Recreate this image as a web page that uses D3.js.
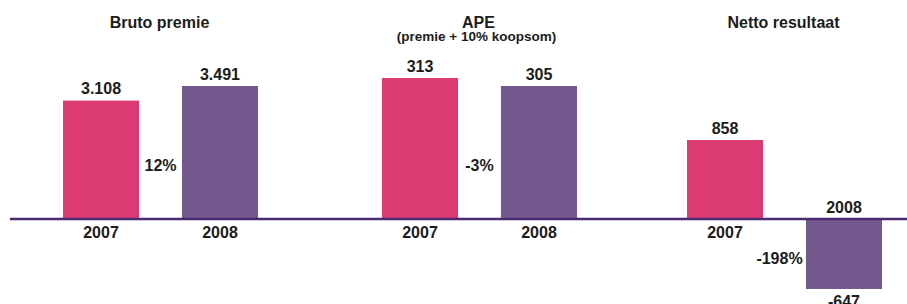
<!DOCTYPE html>
<html>
<head>
<meta charset="utf-8">
<script src="https://cdn.jsdelivr.net/npm/d3@7"></script>
<style>
  html, body { margin: 0; padding: 0; background: #fff; }
  svg text { font-family: "Liberation Sans", Arial, Helvetica, sans-serif; font-weight: bold; fill: #1c1c1c; }
</style>
</head>
<body>
<div id="chart"></div>
<script>
const width = 907;
const height = 304;

// data
const titles = ["Bruto premie", "APE", "Netto resultaat"];
const subtitles = ["", "(premie + 10% koopsom)", ""];
const years = ["2007", "2008"];
const values = [[3108, 3491], [313, 305], [858, -647]];
const valueLabels = [["3.108", "3.491"], ["313", "305"], ["858", "-647"]];
const changes = ["12%", "-3%", "-198%"];
// value at the baseline / ends of each panel's axis, as drawn in the original
const yDomains = [[0, 3491], [172, 313], [-647, 0, 858]];

const colors = ["#dc3a72", "#73598d"];
const lineColor = "#4b2a72";

const baseY = 219;
const panelX = [63, 382, 687];
const panelW = 195;
const topY = [86, 78, 140];
const bottomY = 289;
const changeY = [165, 165, 258];

const svg = d3.select("#chart").append("svg")
    .attr("width", width)
    .attr("height", height);

const x = d3.scaleBand()
    .domain(years)
    .range([0, panelW])
    .paddingInner(0.361)
    .paddingOuter(0);

titles.forEach(function(title, i) {
    const dom = yDomains[i];
    const y = d3.scaleLinear()
        .domain(dom)
        .range(dom.length === 3 ? [bottomY, baseY, topY[i]] : [baseY, topY[i]]);
    const zero = dom.length === 3 ? 0 : dom[0];

    const g = svg.append("g")
        .attr("transform", "translate(" + panelX[i] + ",0)");

    const cx = panelW / 2;

    g.append("text")
        .attr("x", cx - 1)
        .attr("y", 28)
        .attr("text-anchor", "middle")
        .style("font-size", "16px")
        .text(title);

    if (subtitles[i]) {
        g.append("text")
            .attr("x", cx - 3)
            .attr("y", 41)
            .attr("text-anchor", "middle")
            .style("font-size", "13.5px")
            .text(subtitles[i]);
    }

    const rows = years.map(function(yr, j) {
        return {year: yr, value: values[i][j], label: valueLabels[i][j], color: colors[j]};
    });

    g.selectAll(".bar")
        .data(rows)
        .enter().append("rect")
        .attr("class", "bar")
        .attr("x", function(d) { return x(d.year); })
        .attr("width", x.bandwidth())
        .attr("y", function(d) { return Math.min(y(d.value), y(zero)); })
        .attr("height", function(d) { return Math.abs(y(d.value) - y(zero)); })
        .attr("fill", function(d) { return d.color; });

    // value labels
    g.selectAll(".val")
        .data(rows)
        .enter().append("text")
        .attr("class", "val")
        .attr("x", function(d) { return x(d.year) + x.bandwidth() / 2; })
        .attr("y", function(d) { return d.value >= 0 ? y(d.value) - 6.5 : y(d.value) + 17.5; })
        .attr("text-anchor", "middle")
        .style("font-size", "16px")
        .text(function(d) { return d.label; });

    // year labels
    g.selectAll(".year")
        .data(rows)
        .enter().append("text")
        .attr("class", "year")
        .attr("x", function(d) { return x(d.year) + x.bandwidth() / 2; })
        .attr("y", function(d) { return d.value >= 0 ? baseY + 18.5 : baseY - 6; })
        .attr("text-anchor", "middle")
        .style("font-size", "16px")
        .text(function(d) { return d.year; });

    // change between the years
    g.append("text")
        .attr("x", i === 2 ? cx - 5 : cx)
        .attr("y", changeY[i])
        .attr("dy", "0.35em")
        .attr("text-anchor", "middle")
        .style("font-size", "16px")
        .text(changes[i]);
});

// baseline
svg.append("line")
    .attr("x1", 10)
    .attr("x2", width)
    .attr("y1", baseY)
    .attr("y2", baseY)
    .attr("stroke", lineColor)
    .attr("stroke-width", 2.5);
</script>
</body>
</html>
